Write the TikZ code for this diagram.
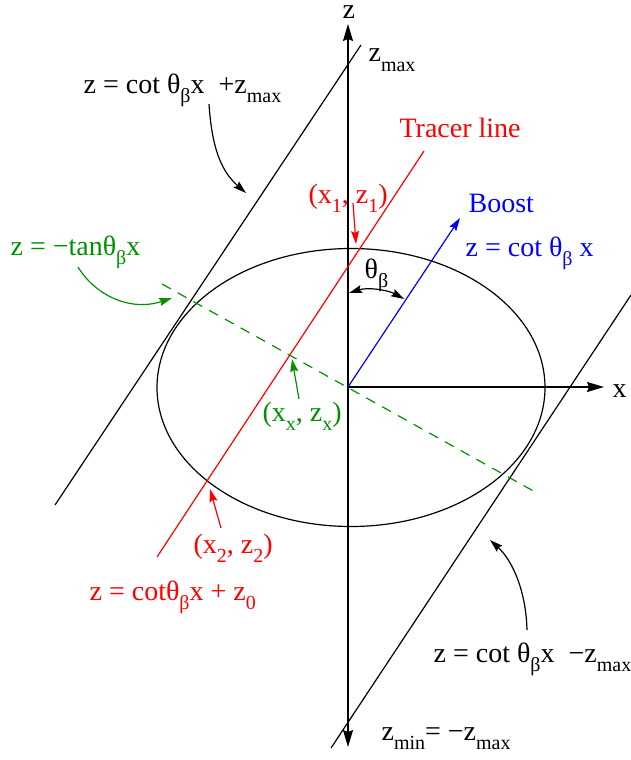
\documentclass[tikz,border=0pt]{standalone}
\usepackage{fontspec}
\setmainfont{Liberation Serif}
\usetikzlibrary{arrows.meta}
\definecolor{dgreen}{RGB}{0,145,0}
\newcommand\dnsub[1]{\raisebox{-0.34em}{\fontsize{20}{20}\selectfont #1}}
\begin{document}
\begin{tikzpicture}[x=1pt,y=-1pt,line width=1.2pt,
  bigtip/.style={-{Stealth[length=17pt,width=10pt,inset=2pt]}},
  smalltip/.style={-{Stealth[length=13pt,width=8pt,inset=2pt]}},
  lbl/.style={anchor=base west,inner sep=0pt,font=\fontsize{28}{30}\selectfont}]
\useasboundingbox (0,0) rectangle (631,760);
% coordinates
\coordinate (O) at (348,387);
\coordinate (ztop) at (348,24);
\coordinate (zbot) at (348,747);
\coordinate (xend) at (604,387);
\coordinate (up1) at (55,505);
\coordinate (up2) at (361,45);
\coordinate (lo1) at (331,748);
\coordinate (lo2) at (631,295);
\coordinate (tr1) at (157,557);
\coordinate (tr2) at (424,151);
\coordinate (gr1) at (162,284);
\coordinate (gr2) at (537,493);
\coordinate (boost) at (460,218);
% ellipse
\draw (351,387.5) ellipse [x radius=194, y radius=139];
% axes
\draw[{Stealth[length=17pt,width=10pt,inset=2pt]}-{Stealth[length=17pt,width=10pt,inset=2pt]}] (zbot) -- (ztop);
\draw[bigtip] (O) -- (xend);
% tangent lines
\draw (up1) -- (up2);
\draw (lo1) -- (lo2);
% tracer line
\draw[red] (tr1) -- (tr2);
% dashed perpendicular
\draw[dgreen,dash pattern=on 10pt off 8pt] (gr1) -- (gr2);
% boost
\draw[blue,smalltip] (O) -- (boost);
% theta arc
\coordinate (th1) at (349,293);
\coordinate (th2) at (404,299);
\draw[{Stealth[length=13pt,width=8pt,inset=2pt]}-{Stealth[length=13pt,width=8pt,inset=2pt]}] (th1) .. controls (368,287) and (388,290) .. (th2);
% labels
\node[lbl] (lz) at (342,19) {z};
\node[lbl] (lx) at (612,397) {x};
\node[lbl] (lupper) at (83,93) {z = cot θ\dnsub{β}x~~+z\dnsub{max}};
\node[lbl] (lzmax) at (368,62) {z\dnsub{max}};
\node[lbl,red] (ltracer) at (399,137) {Tracer line};
\node[lbl,red] (lx1) at (308,203) {(x\dnsub{1}, z\dnsub{1})};
\node[lbl,blue] (lboost) at (468,212) {Boost};
\node[lbl,blue] (lboosteq) at (465,256) {z = cot θ\dnsub{β} x};
\node[lbl,dgreen] (lgreen) at (10,255) {z = −tanθ\dnsub{β}x};
\node[lbl,dgreen] (lxx) at (262,421) {(x\dnsub{x}, z\dnsub{x})};
\node[lbl,red] (lx2) at (193,553) {(x\dnsub{2}, z\dnsub{2})};
\node[lbl,red] (ltreq) at (89,600) {z = cotθ\dnsub{β}x + z\dnsub{0}};
\node[lbl] (llower) at (433,662) {z = cot θ\dnsub{β}x~~−z\dnsub{max}};
\node[lbl] (lzmin) at (381,740) {z\dnsub{min}= −z\dnsub{max}};
\node[lbl] (lth) at (364,278) {θ\dnsub{β}};
% pointer arrows
\coordinate (a1s) at (209,104); \coordinate (a1e) at (246,193);
\draw[smalltip] (a1s) .. controls (212,150) and (222,172) .. (a1e);
\coordinate (a2s) at (78,267); \coordinate (a2e) at (172,298);
\draw[dgreen,smalltip] (a2s) .. controls (95,295) and (130,312) .. (a2e);
\coordinate (a3s) at (353,203); \coordinate (a3e) at (356,244);
\draw[red,smalltip] (a3s) -- (a3e);
\coordinate (a4s) at (299,399); \coordinate (a4e) at (292,359);
\draw[dgreen,smalltip] (a4s) -- (a4e);
\coordinate (a5s) at (221,528); \coordinate (a5e) at (210,489);
\draw[red,smalltip] (a5s) -- (a5e);
\coordinate (a6s) at (527,630); \coordinate (a6e) at (490,540);
\draw[smalltip] (a6s) .. controls (526,590) and (512,560) .. (a6e);
\end{tikzpicture}
\end{document}
